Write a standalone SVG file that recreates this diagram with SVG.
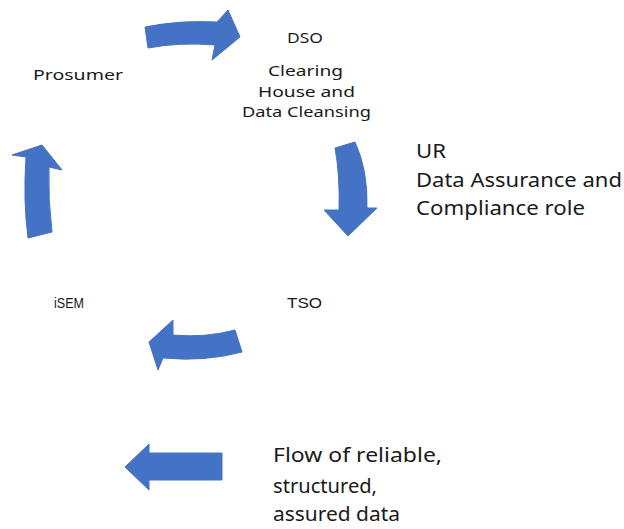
<svg xmlns="http://www.w3.org/2000/svg" width="624" height="529" viewBox="0 0 624 529">
<style>
.arrow{fill:#4472C4;stroke:#4472C4;stroke-width:1;stroke-linejoin:round}
.c{font-family:"Noto Sans","Open Sans","Liberation Sans",sans-serif;fill:#1a1a1a}
.a{font-family:"Liberation Sans",Arial,sans-serif;fill:#1a1a1a}
</style>
<rect width="624" height="529" fill="#ffffff"/>
<g id="connectors">
<path class="arrow" d="M145,27 Q180,20 217,22 L228,10 L240,37 L212,60 L215,45 Q180,42 148,48 Z"/>
<path class="arrow" d="M335,148 L355,142 Q368,170 367,208 L377,208 L348,236 L324,210 L339,210 Q340,175 335,148 Z"/>
<path class="arrow" d="M149,342 L173,320 L173,335 Q205,338 235,330 L242,352 Q205,362 163,358 L158,370 Z"/>
<path class="arrow" d="M42,145 L62,170 L49,167 Q48,200 52,232 L28,238 Q23,200 26,157 L12,155 Z"/>
</g>
<g id="prosumer">
<text class="c" x="33" y="80" font-size="15" textLength="90" lengthAdjust="spacingAndGlyphs">Prosumer</text>
</g>
<g id="dso">
<text class="c" x="287" y="43" font-size="15" textLength="36" lengthAdjust="spacingAndGlyphs">DSO</text>
<text class="c" x="268" y="76" font-size="15" textLength="75" lengthAdjust="spacingAndGlyphs">Clearing</text>
<text class="c" x="258" y="97" font-size="15" textLength="97" lengthAdjust="spacingAndGlyphs">House and</text>
<text class="c" x="242" y="117" font-size="15" textLength="129" lengthAdjust="spacingAndGlyphs">Data Cleansing</text>
</g>
<g id="ur">
<text class="c" x="416" y="158" font-size="19" textLength="30" lengthAdjust="spacingAndGlyphs">UR</text>
<text class="c" x="416" y="187" font-size="19" textLength="206" lengthAdjust="spacingAndGlyphs">Data Assurance and</text>
<text class="c" x="416" y="215" font-size="19" textLength="169" lengthAdjust="spacingAndGlyphs">Compliance role</text>
</g>
<g id="tso">
<text class="a" x="287" y="308" font-size="14" textLength="35" lengthAdjust="spacingAndGlyphs">TSO</text>
</g>
<g id="isem">
<text class="a" x="54" y="308" font-size="14" font-weight="500" textLength="30" lengthAdjust="spacingAndGlyphs">iSEM</text>
</g>
<g id="legend">
<path class="arrow" d="M125,467 L149,444 L149,453 L222,453 L222,480 L149,480 L149,490 Z"/>
<text class="c" x="273" y="462" font-size="19" textLength="169" lengthAdjust="spacingAndGlyphs">Flow of reliable,</text>
<text class="c" x="273" y="493" font-size="19" textLength="104" lengthAdjust="spacingAndGlyphs">structured,</text>
<text class="c" x="273" y="521" font-size="19" textLength="127" lengthAdjust="spacingAndGlyphs">assured data</text>
</g>
</svg>
